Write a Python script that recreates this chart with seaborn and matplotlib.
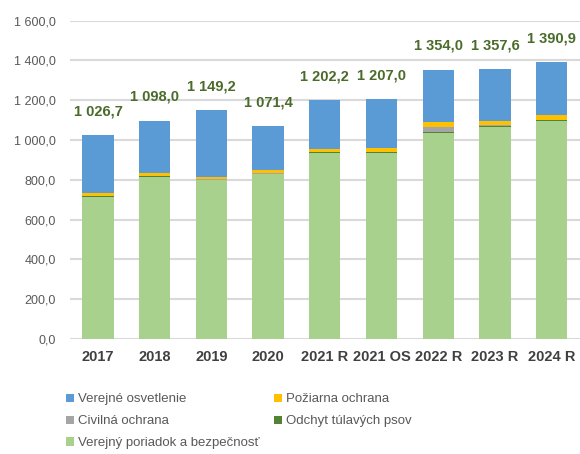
import matplotlib
matplotlib.use("Agg")
import matplotlib.pyplot as plt
import seaborn as sns
import pandas as pd
import numpy as np
from matplotlib.patches import Patch

categories = ["2017", "2018", "2019", "2020", "2021 R", "2021 OS", "2022 R", "2023 R", "2024 R"]
totals = [1026.7, 1098.0, 1149.2, 1071.4, 1202.2, 1207.0, 1354.0, 1357.6, 1390.9]
verejny_poriadok = [712.0, 813.0, 797.0, 828.0, 935.0, 935.0, 1038.0, 1068.0, 1095.0]
odchyt_psov = [5.0, 4.0, 4.0, 3.0, 5.0, 5.0, 5.0, 4.0, 5.0]
civilna_ochrana = [3.0, 2.0, 2.0, 2.0, 2.0, 2.0, 25.0, 3.0, 3.0]
poziarna_ochrana = [15.0, 14.0, 12.0, 18.0, 14.0, 20.0, 22.0, 20.0, 22.0]
verejne_osvetlenie = [t - a - b - c - d for t, a, b, c, d in
                      zip(totals, verejny_poriadok, odchyt_psov, civilna_ochrana, poziarna_ochrana)]

series = [
    ("Verejný poriadok a bezpečnosť", verejny_poriadok, "#A9D18E"),
    ("Odchyt túlavých psov", odchyt_psov, "#548235"),
    ("Civilná ochrana", civilna_ochrana, "#A5A5A5"),
    ("Požiarna ochrana", poziarna_ochrana, "#FFC000"),
    ("Verejné osvetlenie", verejne_osvetlenie, "#5B9BD5"),
]

sns.set_theme(style="white")
plt.rcParams["font.family"] = ["Liberation Sans", "DejaVu Sans"]

fig = plt.figure(figsize=(5.8, 4.54), dpi=100)
ax = fig.add_axes([0.12, 0.2533, 0.88, 0.7011])

bottom = np.zeros(len(categories))
for name, vals, color in series:
    df = pd.DataFrame({"cat": categories, "val": vals})
    sns.barplot(data=df, x="cat", y="val", order=categories, color=color,
                bottom=bottom, width=0.55, ax=ax, linewidth=0, saturation=1)
    bottom = bottom + np.array(vals)

def fmt(v):
    return f"{v:,.1f}".replace(",", " ").replace(".", ",")

for i, t in enumerate(totals):
    ax.annotate(fmt(t), (i, t), xytext=(0, 12), textcoords="offset points",
                ha="center", va="bottom", fontsize=10.5, fontweight="bold",
                color="#4A6B2A")

ax.set_ylim(0, 1600)
ax.set_xlim(-0.5, 8.5)
yt = np.arange(0, 1601, 200)
ax.set_yticks(yt)
ax.set_yticklabels([fmt(v) for v in yt], fontsize=9, color="#595959")
ax.set_xticks(range(len(categories)))
ax.set_xticklabels(categories, fontsize=10.5, fontweight="bold", color="#404040")
ax.tick_params(axis="x", length=0, pad=8)
ax.tick_params(axis="y", length=0, pad=10)
ax.set_xlabel("")
ax.set_ylabel("")
ax.yaxis.grid(True, color="#D9D9D9", linewidth=1.5)
ax.set_axisbelow(True)
for sp in ax.spines.values():
    sp.set_visible(False)

lookup = {n: c for n, _, c in series}
order = ["Verejné osvetlenie", "Civilná ochrana", "Verejný poriadok a bezpečnosť",
         "Požiarna ochrana", "Odchyt túlavých psov"]
handles = [Patch(facecolor=lookup[n], edgecolor="none", label=n) for n in order]
fig.legend(handles=handles, loc="upper left", bbox_to_anchor=(0.105, 0.145),
           bbox_transform=fig.transFigure, ncol=2, frameon=False,
           fontsize=9.5, labelcolor="#595959", handlelength=0.6, handleheight=0.6,
           handletextpad=0.3, columnspacing=1.1, labelspacing=0.75,
           borderaxespad=0)

fig.savefig("out.png", dpi=100)
